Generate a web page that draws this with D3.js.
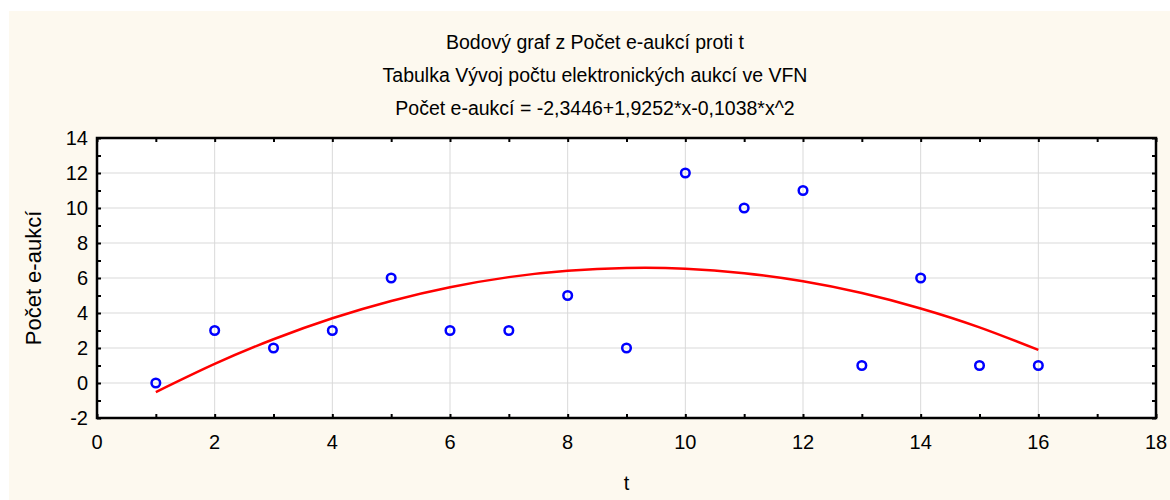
<!DOCTYPE html>
<html lang="cs">
<head>
<meta charset="UTF-8">
<title>Bodový graf</title>
<style>
  body { margin: 0; background: #fff; }
  svg text { font-family: "Liberation Sans", Arial, sans-serif; fill: #000; }
</style>
</head>
<body>
<svg id="chart"></svg>
<script src="https://cdn.jsdelivr.net/npm/d3@7/dist/d3.min.js"></script>
<script>
const titles = [
  'Bodový graf z Počet e-aukcí proti t',
  'Tabulka Vývoj počtu elektronických aukcí ve VFN',
  'Počet e-aukcí = -2,3446+1,9252*x-0,1038*x^2'
]
const xLabel = 't'
const yLabel = 'Počet e-aukcí'

// observed points
const tValues = [1, 2, 3, 4, 5, 6, 7, 8, 9, 10, 11, 12, 13, 14, 15, 16]
const counts = [0, 3, 2, 3, 6, 3, 3, 5, 2, 12, 10, 11, 1, 6, 1, 1]

// fitted curve, read at each t
const fitValues = [-0.52, 1.09, 2.50, 3.70, 4.69, 5.47, 6.05, 6.41, 6.57, 6.53, 6.27, 5.81, 5.14, 4.26, 3.18, 1.89]

const xTicks = [0, 2, 4, 6, 8, 10, 12, 14, 16, 18]
const yTicks = [-2, 0, 2, 4, 6, 8, 10, 12, 14]

const width = 1170, height = 500
const plot = { left: 97, top: 138, right: 1156, bottom: 418 }

const svg = d3.select('#chart').attr('width', width).attr('height', height)

svg.append('rect').attr('x', 9).attr('y', 11).attr('width', width - 9).attr('height', height - 11)
  .attr('fill', '#fdf9ef')

const x = d3.scaleLinear().domain([0, 18]).range([plot.left, plot.right])
const y = d3.scaleLinear().domain([-2, 14]).range([plot.bottom, plot.top])

svg.append('rect').attr('x', plot.left).attr('y', plot.top)
  .attr('width', plot.right - plot.left).attr('height', plot.bottom - plot.top)
  .attr('fill', '#fff')

// grid
const grid = svg.append('g').attr('stroke', '#d9d9d9').attr('stroke-width', 1)
grid.selectAll('.gx').data(xTicks.slice(1, -1)).enter().append('line')
  .attr('x1', d => x(d)).attr('x2', d => x(d)).attr('y1', plot.top).attr('y2', plot.bottom)
grid.selectAll('.gy').data(yTicks.slice(1, -1)).enter().append('line')
  .attr('y1', d => y(d)).attr('y2', d => y(d)).attr('x1', plot.left).attr('x2', plot.right)

// fitted curve
const line = d3.line().x((d, i) => x(tValues[i])).y(d => y(d)).curve(d3.curveNatural)
svg.append('path').datum(fitValues).attr('d', line)
  .attr('fill', 'none').attr('stroke', '#ff0000').attr('stroke-width', 2.5)

// points
svg.selectAll('circle.pt').data(counts).enter().append('circle')
  .attr('class', 'pt')
  .attr('cx', (d, i) => x(tValues[i])).attr('cy', d => y(d)).attr('r', 4.3)
  .attr('fill', 'none').attr('stroke', '#0000ff').attr('stroke-width', 2.5)

// axes: ticks inside on all four sides
const minorX = d3.range(0, 19, 1)
const minorY = d3.range(-2, 15, 1)
const tickLen = 4
svg.append('g').attr('transform', `translate(0,${plot.bottom})`)
  .call(d3.axisTop(x).tickValues(minorX).tickSize(tickLen).tickFormat(''))
svg.append('g').attr('transform', `translate(0,${plot.top})`)
  .call(d3.axisBottom(x).tickValues(minorX).tickSize(tickLen).tickFormat(''))
svg.append('g').attr('transform', `translate(${plot.left},0)`)
  .call(d3.axisRight(y).tickValues(minorY).tickSize(tickLen).tickFormat(''))
svg.append('g').attr('transform', `translate(${plot.right},0)`)
  .call(d3.axisLeft(y).tickValues(minorY).tickSize(tickLen).tickFormat(''))
svg.selectAll('.domain').remove()
svg.selectAll('.tick line').attr('stroke', '#000').attr('stroke-width', 2)

svg.append('rect').attr('x', plot.left).attr('y', plot.top)
  .attr('width', plot.right - plot.left).attr('height', plot.bottom - plot.top)
  .attr('fill', 'none').attr('stroke', '#000').attr('stroke-width', 2.5)

// tick labels
svg.append('g').selectAll('text').data(xTicks).enter().append('text')
  .attr('x', d => x(d)).attr('y', plot.bottom + 31)
  .attr('text-anchor', 'middle').attr('font-size', 20).text(d => d)
svg.append('g').selectAll('text').data(yTicks).enter().append('text')
  .attr('x', plot.left - 9).attr('y', d => y(d) + 7)
  .attr('text-anchor', 'end').attr('font-size', 20).text(d => d)

// titles
svg.append('g').selectAll('text').data(titles).enter().append('text')
  .attr('x', 595).attr('y', (d, i) => 49 + i * 33)
  .attr('text-anchor', 'middle').attr('font-size', 19.5).text(d => d)

svg.append('text').attr('x', (plot.left + plot.right) / 2).attr('y', 490)
  .attr('text-anchor', 'middle').attr('font-size', 20).text(xLabel)
svg.append('text').attr('transform', `translate(41,${(plot.top + plot.bottom) / 2}) rotate(-90)`)
  .attr('text-anchor', 'middle').attr('font-size', 22).text(yLabel)
</script>
</body>
</html>
